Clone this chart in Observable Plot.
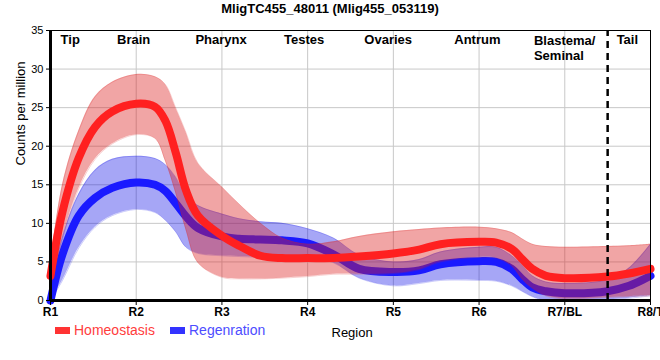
<!DOCTYPE html>
<html><head><meta charset="utf-8">
<script src="https://cdn.jsdelivr.net/npm/d3@7"></script>
<script src="https://cdn.jsdelivr.net/npm/@observablehq/plot@0.6"></script>
<style>
body{margin:0;background:#fff;font-family:"Liberation Sans",Arial,sans-serif;}
#wrap{position:relative;width:660px;height:360px;overflow:hidden;}
#title{position:absolute;left:0;top:1px;width:660px;text-align:center;font-weight:bold;font-size:13px;line-height:15px;}
.sw{position:absolute;width:15px;height:7px;}
.lg{position:absolute;font-size:14px;line-height:16px;}
</style></head>
<body>
<div id="wrap">
<div id="chart"></div>
<div id="title">MligTC455_48011 (Mlig455_053119)</div>
<div class="sw" style="left:55px;top:327px;background:#ff3333"></div>
<div class="lg" style="left:74px;top:322px;color:#ff3d3d">Homeostasis</div>
<div class="sw" style="left:170px;top:327px;background:#3333ff"></div>
<div class="lg" style="left:189px;top:322px;color:#4d4dff">Regenration</div>
</div>
<script>
const xs = [1, 1.14, 1.33, 1.52, 1.72, 2.0, 2.22, 2.34, 2.46, 2.58, 2.72, 3.0, 3.2, 3.45, 3.7, 4.0, 4.3, 4.6, 5.0, 5.3, 5.55, 6.0, 6.2, 6.38, 6.5, 6.62, 6.78, 7.0, 7.5, 7.75, 8.0];
const homeoMean  = [3.2,11.5,18.5,22.5,24.5,25.5,25.1,23.3,19.2,14.3,11.0,8.4,7.1,5.8,5.5,5.5,5.5,5.7,6.1,6.6,7.3,7.6,7.5,6.7,5.4,4.1,3.2,2.9,3.1,3.5,4.1];
const homeoUpper = [4.8,15.0,22.0,26.4,28.3,29.3,29.0,28.0,25.0,21.8,17.8,14.7,12.5,10.0,8.1,7.3,7.6,8.3,8.9,9.2,9.4,9.5,9.3,8.8,8.0,7.3,7.0,6.9,7.0,7.1,7.3];
const homeoLower = [1.6,8.0,14.5,18.3,20.3,21.5,21.0,18.1,14.0,9.2,4.9,3.0,2.8,2.8,2.9,3.1,3.4,3.4,3.5,4.0,5.0,5.6,5.5,4.5,2.8,1.6,0.6,0.2,0.4,0.5,0.6];
const regenMean  = [0,6.0,11.0,13.3,14.6,15.3,15.0,14.2,12.6,10.9,9.4,8.3,8.0,7.9,7.8,7.4,6.0,4.1,3.7,3.9,4.7,5.1,5.0,4.1,2.8,1.7,1.2,0.95,1.2,1.9,3.2];
const regenUpper = [1.5,8.2,13.8,16.9,18.3,18.7,18.4,17.6,16.0,13.6,12.3,11.2,10.6,10.2,10.0,9.3,8.1,5.9,5.0,5.3,6.3,6.9,6.9,5.8,4.6,3.2,2.4,2.2,2.7,4.2,7.3];
const regenLower = [0,2.6,6.8,9.5,11.0,11.8,11.4,10.4,8.9,6.9,6.1,5.8,5.7,5.6,5.6,5.6,4.9,2.9,1.9,2.2,2.6,2.6,2.5,1.9,1.2,0.5,0,0,0.1,0.3,0.6];

const xTicks = [1, 2, 3, 4, 5, 6, 7, 8];
const xLabels = ["R1", "R2", "R3", "R4", "R5", "R6", "R7/BL", "R8/T"];
const yTicks = [0, 5, 10, 15, 20, 25, 30, 35];
const regionNames = ["Tip", "Brain", "Pharynx", "Testes", "Ovaries", "Antrum", "Tail"];
const regionPos = [1.23, 1.97, 2.99, 3.96, 4.94, 5.98, 7.73];
const blastemaName = ["Blastema/\nSeminal"];
const blastemaPos = [6.64];
const tailBoundary = [7.5];

const homeo = xs.map((x, i) => ({x, m: homeoMean[i], lo: homeoLower[i], hi: homeoUpper[i]}));
const regen = xs.map((x, i) => ({x, m: regenMean[i], lo: regenLower[i], hi: regenUpper[i]}));
const regions = regionNames.map((n, i) => ({n, x: regionPos[i]}));
const blast = blastemaName.map((n, i) => ({n, x: blastemaPos[i]}));

const curve = "catmull-rom";
const chart = Plot.plot({
  width: 660, height: 360,
  marginLeft: 50, marginRight: 10, marginTop: 30, marginBottom: 60,
  style: {fontFamily: "Liberation Sans, Arial, sans-serif", fontSize: "11px", color: "black", background: "white"},
  x: {type: "linear", domain: [1, 8]},
  y: {domain: [0, 35]},
  marks: [
    Plot.ruleX(xTicks, {stroke: "#c8c8c8", strokeWidth: 1}),
    Plot.ruleY(yTicks, {stroke: "#c8c8c8", strokeWidth: 1}),
    Plot.areaY(regen, {x: "x", y1: "lo", y2: "hi", fill: "#0000e6", fillOpacity: 0.35, curve}),
    Plot.line(regen, {x: "x", y: "hi", stroke: "#0000e6", strokeOpacity: 0.2, strokeWidth: 1, curve}),
    Plot.line(regen, {x: "x", y: "lo", stroke: "#0000e6", strokeOpacity: 0.2, strokeWidth: 1, curve}),
    Plot.line(regen, {x: "x", y: "m", stroke: "#1a1aff", strokeWidth: 8, curve}),
    Plot.areaY(homeo, {x: "x", y1: "lo", y2: "hi", fill: "#dc1e1e", fillOpacity: 0.4, curve}),
    Plot.line(homeo, {x: "x", y: "hi", stroke: "#dc1e1e", strokeOpacity: 0.2, strokeWidth: 1, curve}),
    Plot.line(homeo, {x: "x", y: "lo", stroke: "#dc1e1e", strokeOpacity: 0.2, strokeWidth: 1, curve}),
    Plot.line(homeo, {x: "x", y: "m", stroke: "#ff2020", strokeWidth: 8, curve}),
    Plot.ruleX(tailBoundary, {stroke: "black", strokeWidth: 2.5, strokeDasharray: "7,5", y1: 0, y2: 35}),
    Plot.frame({stroke: "black", strokeWidth: 1}),
    Plot.ruleX([1], {stroke: "black", strokeWidth: 3}),
    Plot.ruleY([0], {stroke: "black", strokeWidth: 3}),
    Plot.axisY({ticks: yTicks, tickSize: 4, tickPadding: 3, fontSize: 11, label: null}),
    Plot.axisX({ticks: xTicks, tickFormat: d => xLabels[d - 1], tickSize: 5, tickPadding: 2, fontSize: 12, fontWeight: "bold", label: null}),
    Plot.text(regions, {x: "x", text: "n", frameAnchor: "top", lineAnchor: "top", dy: 4, fontSize: 13, fontWeight: "bold"}),
    Plot.text(blast, {x: "x", text: "n", frameAnchor: "top", lineAnchor: "top", dy: 4, fontSize: 13, fontWeight: "bold", textAnchor: "start", lineHeight: 1.15}),
    Plot.text(["Counts per million"], {frameAnchor: "left", dx: -30, rotate: -90, fontSize: 13}),
    Plot.text(["Region"], {frameAnchor: "bottom-left", dx: 281, dy: 36, textAnchor: "start", fontSize: 13})
  ]
});
document.getElementById("chart").appendChild(chart);
</script>
</body></html>
